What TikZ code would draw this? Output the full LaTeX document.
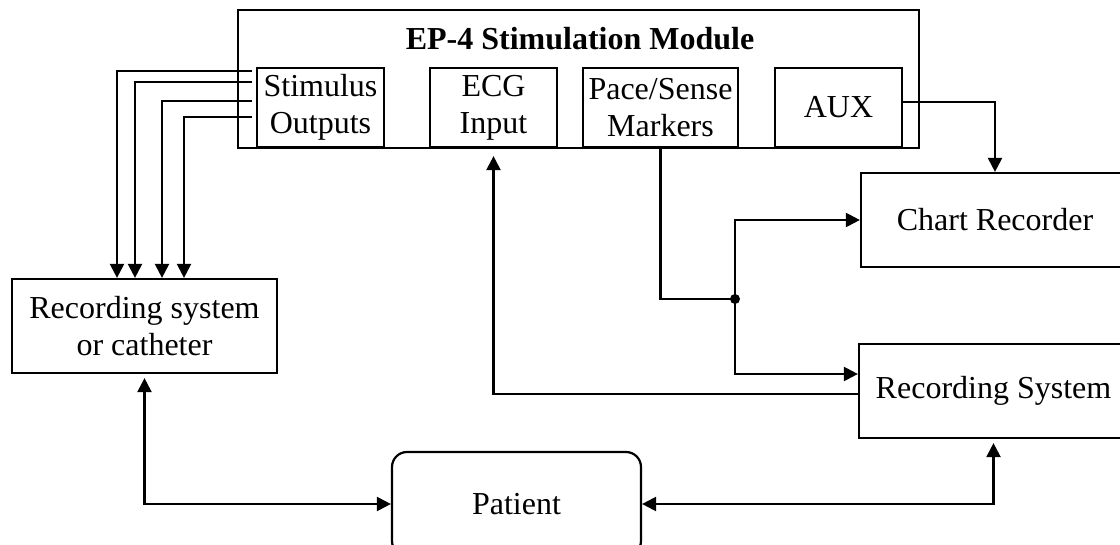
\documentclass[tikz,border=0pt]{standalone}
\usepackage{fontspec}
\setmainfont{Liberation Serif}
\usetikzlibrary{arrows.meta}
\begin{document}
\begin{tikzpicture}[x=0.5pt,y=-0.5pt,
  box/.style={draw, line width=1.1pt, inner sep=0pt, align=center, font=\fontsize{16}{18.5}\selectfont},
  line/.style={line width=1.1pt},
  tip/.tip={Triangle[length=7pt,width=7pt]},
  arr/.style={line width=1.1pt, -tip},
  arrb/.style={line width=1.1pt, tip-tip}]
\clip (0,0) rectangle (1120,545);
\fill[white] (0,0) rectangle (1120,545);
% module
\node[box, minimum width=340.5pt, minimum height=69pt] (mod) at (578.5,79) {};
\node[font=\fontsize{16}{18.5}\selectfont\bfseries, inner sep=0pt] (title) at (580,39) {EP-4 Stimulation Module};
\node[box, minimum width=63.5pt, minimum height=39.5pt] (stim) at (320.5,107.5) {Stimulus\\Outputs};
\node[box, minimum width=63.5pt, minimum height=39.5pt] (ecg) at (493.5,107.5) {ECG\\Input};
\node[box, minimum width=77.5pt, minimum height=39.5pt] (pace) at (660.5,107.5) {Pace/Sense\\Markers};
\node[box, minimum width=63.5pt, minimum height=39.5pt] (aux) at (838.5,107.5) {AUX};
% other boxes
\node[box, minimum width=134pt, minimum height=47pt] (chart) at (995,220) {Chart Recorder};
\node[box, minimum width=134.5pt, minimum height=47pt] (recsys) at (993.5,391) {Recording System};
\node[box, minimum width=132.5pt, minimum height=47pt] (cath) at (144.5,326) {Recording system\\or catheter};
\node[box, rounded corners=7.5pt, minimum width=124.5pt, minimum height=52pt] (patient) at (516.5,504) {Patient};
% helper coordinates
\coordinate (x1) at (117,0);
\coordinate (x2) at (135,0);
\coordinate (x3) at (162,0);
\coordinate (x4) at (184,0);
\coordinate (dot) at (735,299);
% stimulus outputs
\draw[arr] ([xshift=-2pt,yshift=18.25pt]stim.west) -| (cath.north -| x1);
\draw[arr] ([xshift=-2pt,yshift=12.75pt]stim.west) -| (cath.north -| x2);
\draw[arr] ([xshift=-2pt,yshift=3.25pt]stim.west) -| (cath.north -| x3);
\draw[arr] ([xshift=-2pt,yshift=-4.75pt]stim.west) -| (cath.north -| x4);
% ECG input
\draw[arr] ([yshift=-1.5pt]recsys.west) -| ([yshift=-4pt]ecg.south);
% pace/sense
\draw[line] (pace.south) |- (dot);
\fill (dot) circle (2.5pt);
\draw[arr] (dot) |- (chart.west);
\draw[arr] (dot) |- ([yshift=8.5pt]recsys.west);
% AUX
\draw[arr] ([yshift=2.75pt]aux.east) -| (chart.north);
% patient
\draw[arrb] ([yshift=-2pt]cath.south) |- (patient.west);
\draw[arrb] ([yshift=-2pt]recsys.south) |- (patient.east);
\end{tikzpicture}
\end{document}
